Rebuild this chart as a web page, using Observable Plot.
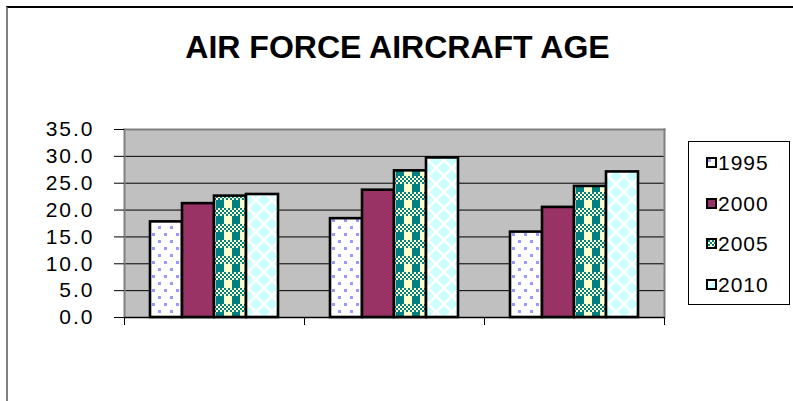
<!DOCTYPE html>
<html>
<head>
<meta charset="utf-8">
<script src="https://cdn.jsdelivr.net/npm/d3@7"></script>
<script src="https://cdn.jsdelivr.net/npm/@observablehq/plot@0.6"></script>
<style>
html, body { margin: 0; padding: 0; background: #fff; overflow: hidden; }
#chart { position: relative; width: 793px; height: 401px; font-family: "Liberation Sans", Arial, sans-serif; overflow: hidden; }
#border { position: absolute; left: 6px; top: 6px; width: 820px; height: 420px; border-left: 2px solid #808080; border-top: 2px solid #000; }
#title { position: absolute; left: 0; top: 31px; width: 795px; text-align: center; font-weight: bold; font-size: 32px; line-height: 32px; color: #000; }
#plot { position: absolute; left: 0; top: 0; }
#plot svg { font-family: "Liberation Sans", Arial, sans-serif; }
#plot [aria-label="y-axis tick label"] text { letter-spacing: 2px; }
#legend { position: absolute; left: 688px; top: 141px; width: 102px; height: 164px; border: 1px solid #000; background: #fff; box-sizing: border-box; padding-top: 10px; }
.item { height: 40.5px; display: flex; align-items: flex-start; padding-left: 17px; }
.item .row { display: flex; align-items: center; height: 21px; }
.item svg { display: block; margin-right: 1px; }
.item span { font-size: 21px; line-height: 21px; letter-spacing: 1px; color: #000; }
</style>
</head>
<body>
<svg width="0" height="0" style="position:absolute">
  <defs>
    <pattern id="p1995" patternUnits="userSpaceOnUse" width="12" height="14">
      <rect width="12" height="14" fill="#fff"/>
      <rect x="2" y="2" width="3" height="3" fill="#9999FF"/>
      <rect x="8" y="9" width="3" height="3" fill="#9999FF"/>
    </pattern>
    <pattern id="p2000" patternUnits="userSpaceOnUse" width="8" height="8">
      <rect width="8" height="8" fill="#993366"/>
    </pattern>
    <pattern id="p2005" patternUnits="userSpaceOnUse" width="16" height="16">
      <rect width="16" height="16" fill="#FFFFCC"/>
      <rect x="8" y="8" width="8" height="8" fill="#008080"/>
      <g id="checks"></g>
    </pattern>
    <pattern id="p2010" patternUnits="userSpaceOnUse" width="16" height="16">
      <rect width="16" height="16" fill="#fff"/>
      <polygon points="8,2 14,8 8,14 2,8" fill="#CCFFFF"/>
      <polygon points="0,-6 6,0 0,6 -6,0" fill="#CCFFFF"/>
      <polygon points="16,-6 22,0 16,6 10,0" fill="#CCFFFF"/>
      <polygon points="0,10 6,16 0,22 -6,16" fill="#CCFFFF"/>
      <polygon points="16,10 22,16 16,22 10,16" fill="#CCFFFF"/>
    </pattern>
  </defs>
</svg>
<div id="chart">
  <div id="border"></div>
  <div id="plot"></div>
  <div id="title">AIR FORCE AIRCRAFT AGE</div>
  <div id="legend"></div>
</div>
<script>
// ---- data ----
const categories = ["Group 1", "Group 2", "Group 3"];
const years = ["1995", "2000", "2005", "2010"];
const values1995 = [17.8, 18.4, 15.9];
const values2000 = [21.2, 23.7, 20.5];
const values2005 = [22.6, 27.3, 24.4];
const values2010 = [22.9, 29.7, 27.1];
const yTicks = [0, 5, 10, 15, 20, 25, 30, 35];

const seriesValues = [values1995, values2000, values2005, values2010];
const fills = {"1995": "url(#p1995)", "2000": "url(#p2000)", "2005": "url(#p2005)", "2010": "url(#p2010)"};

// small 2x2 checker band for the 2005 plaid pattern
const checks = d3.select("#checks");
for (let cx = 0; cx < 8; cx++) for (let cy = 0; cy < 4; cy++) {
  if ((cx + cy) % 2 === 0) checks.append("rect").attr("x", cx * 2).attr("y", cy * 2).attr("width", 2).attr("height", 2).attr("fill", "#008080");
}

const data = categories.flatMap((c, i) => years.map((yr, j) => ({category: c, year: yr, value: seriesValues[j][i]})));

const plot = Plot.plot({
  width: 793,
  height: 401,
  marginLeft: 124,
  marginRight: 129,
  marginTop: 129,
  marginBottom: 84,
  style: {background: "transparent", fontSize: "21px", color: "#000"},
  fx: {domain: categories, padding: 0, axis: null, label: null},
  x: {domain: years, paddingInner: 0, paddingOuter: 0.73, axis: null, label: null},
  y: {domain: [0, 35], axis: null, label: null},
  color: {type: "identity"},
  marks: [
    Plot.frame({fill: "#C0C0C0", facet: "super"}),
    Plot.gridY(yTicks.filter(t => t > 0 && t < 35), {stroke: "#000", strokeOpacity: 1, strokeWidth: 1}),
    Plot.barY(data, {fx: "category", x: "year", y: "value", fill: d => fills[d.year], stroke: "#000", strokeWidth: 2.6}),
    Plot.frame({anchor: "top", stroke: "#808080", strokeWidth: 2, facet: "super"}),
    Plot.frame({anchor: "left", stroke: "#808080", strokeWidth: 2, facet: "super"}),
    Plot.frame({anchor: "right", stroke: "#808080", strokeWidth: 2, facet: "super"}),
    Plot.ruleY([0], {stroke: "#000", strokeWidth: 1.5}),
    Plot.axisY(yTicks, {anchor: "left", tickSize: 10, tickPadding: 20, tickFormat: d3.format(".1f"), fontSize: 21, label: null, stroke: "#000"}),
    Plot.axisFx(categories, {anchor: "bottom", tickSize: 8, tickFormat: null, dx: -90, label: null, stroke: "#000"}),
    Plot.axisFx([categories[categories.length - 1]], {anchor: "bottom", tickSize: 8, tickFormat: null, dx: 90, label: null, stroke: "#000"})
  ]
});
document.getElementById("plot").appendChild(plot);

// legend
const legend = d3.select("#legend");
years.forEach(yr => {
  const row = legend.append("div").attr("class", "item").append("div").attr("class", "row");
  const sw = row.append("svg").attr("width", 11).attr("height", 11);
  sw.append("rect").attr("x", 1).attr("y", 1).attr("width", 9).attr("height", 9)
    .attr("fill", fills[yr]).attr("stroke", "#000").attr("stroke-width", 2);
  row.append("span").text(yr);
});
</script>
</body>
</html>
